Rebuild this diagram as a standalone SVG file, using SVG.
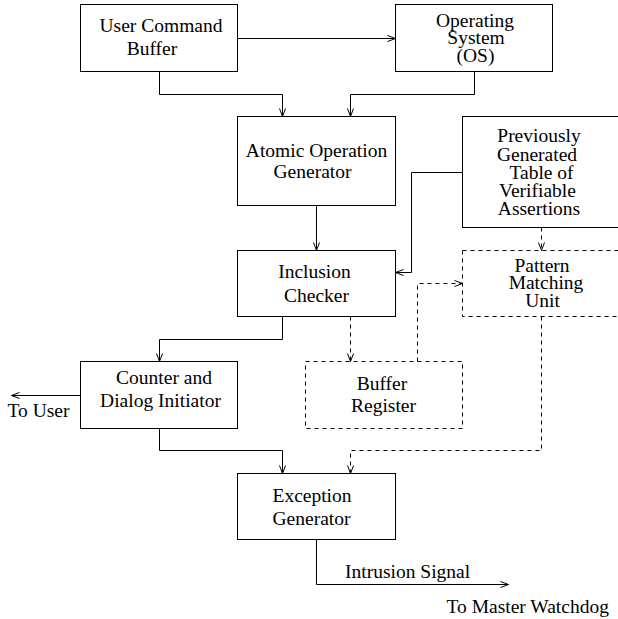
<svg xmlns="http://www.w3.org/2000/svg" width="618" height="619" viewBox="0 0 618 619">
<style>
.box{fill:none;stroke:#000;stroke-width:1}
.dbox{fill:none;stroke:#000;stroke-width:1;stroke-dasharray:4 4}
.c{fill:none;stroke:#000;stroke-width:1}
.d{fill:none;stroke:#000;stroke-width:1;stroke-dasharray:4 4}
text{font-family:"Liberation Serif","Times New Roman",serif;font-size:19.5px;fill:#000}
.m{text-anchor:middle}
</style>
<defs>
<marker id="a" markerUnits="userSpaceOnUse" markerWidth="12" markerHeight="10" refX="0" refY="0" viewBox="-10 -5 12 10" orient="auto" overflow="visible">
<path d="M-8,-3 L0,0 L-8,3" fill="none" stroke="#000" stroke-width="1"/>
</marker>
</defs>
<rect width="618" height="619" fill="#fff"/>
<g id="ucb"><rect class="box" x="80.5" y="4.5" width="157" height="67"/>
<text class="m" x="161" y="32">User Command</text><text class="m" x="152" y="55">Buffer</text></g>
<g id="os"><rect class="box" x="395.5" y="4.5" width="157" height="67"/>
<text class="m" x="475" y="26.5">Operating</text><text class="m" x="476" y="44">System</text><text class="m" x="475.5" y="61.5">(OS)</text></g>
<g id="aog"><rect class="box" x="237.5" y="116.5" width="158" height="89"/>
<text class="m" x="316.5" y="156.5">Atomic Operation</text><text class="m" x="312.5" y="178">Generator</text></g>
<g id="prev"><rect class="box" x="462.5" y="116.5" width="200" height="111"/>
<text class="m" x="539" y="141.5">Previously</text><text class="m" x="537" y="160.5">Generated</text><text class="m" x="541.5" y="179">Table of</text><text class="m" x="537.5" y="197">Verifiable</text><text class="m" x="539" y="215">Assertions</text></g>
<g id="ic"><rect class="box" x="237.5" y="250.5" width="158" height="66"/>
<text class="m" x="314.5" y="278">Inclusion</text><text class="m" x="316.5" y="301.5">Checker</text></g>
<g id="pmu"><rect class="dbox" x="462.5" y="250.5" width="200" height="66"/>
<text class="m" x="542" y="271.5">Pattern</text><text class="m" x="546" y="289">Matching</text><text class="m" x="542.5" y="306.5">Unit</text></g>
<g id="cdi"><rect class="box" x="80.5" y="361.5" width="157" height="67"/>
<text class="m" x="164" y="384">Counter and</text><text class="m" x="160.5" y="406.5">Dialog Initiator</text></g>
<g id="br"><rect class="dbox" x="305.5" y="361.5" width="157" height="67"/>
<text class="m" x="382" y="390">Buffer</text><text class="m" x="383.5" y="411.5">Register</text></g>
<g id="eg"><rect class="box" x="237.5" y="473.5" width="158" height="66"/>
<text class="m" x="312" y="501.5">Exception</text><text class="m" x="311.5" y="525">Generator</text></g>
<g id="connectors">
<path class="c" d="M237.5,38.5 H395.5" marker-end="url(#a)"/>
<path class="c" d="M159.5,71.5 V94.5 H282.5 V116.5" marker-end="url(#a)"/>
<path class="c" d="M474.5,71.5 V94.5 H350.5 V116.5" marker-end="url(#a)"/>
<path class="c" d="M316.5,205.5 V250.5" marker-end="url(#a)"/>
<path class="c" d="M462.5,172.5 H411.5 V272.5 H395.5" marker-end="url(#a)"/>
<path class="d" d="M541.5,227.5 V250.5" marker-end="url(#a)"/>
<path class="c" d="M282.5,316.5 V339.5 H159.5 V361.5" marker-end="url(#a)"/>
<path class="d" d="M350.5,316.5 V361.5" marker-end="url(#a)"/>
<path class="d" d="M417.5,361.5 V283.5 H462.5" marker-end="url(#a)"/>
<path class="c" d="M80.5,395.5 H11.5" marker-end="url(#a)"/>
<path class="c" d="M159.5,428.5 V450.5 H282.5 V473.5" marker-end="url(#a)"/>
<path class="d" d="M541.5,316.5 V450.5 H350.5 V473.5" marker-end="url(#a)"/>
<path class="c" d="M316.5,539.5 V584.5 H508.5" marker-end="url(#a)"/>
</g>
<text x="7.5" y="417">To User</text>
<text x="345" y="578">Intrusion Signal</text>
<text x="446.5" y="613">To Master Watchdog</text>
</svg>
